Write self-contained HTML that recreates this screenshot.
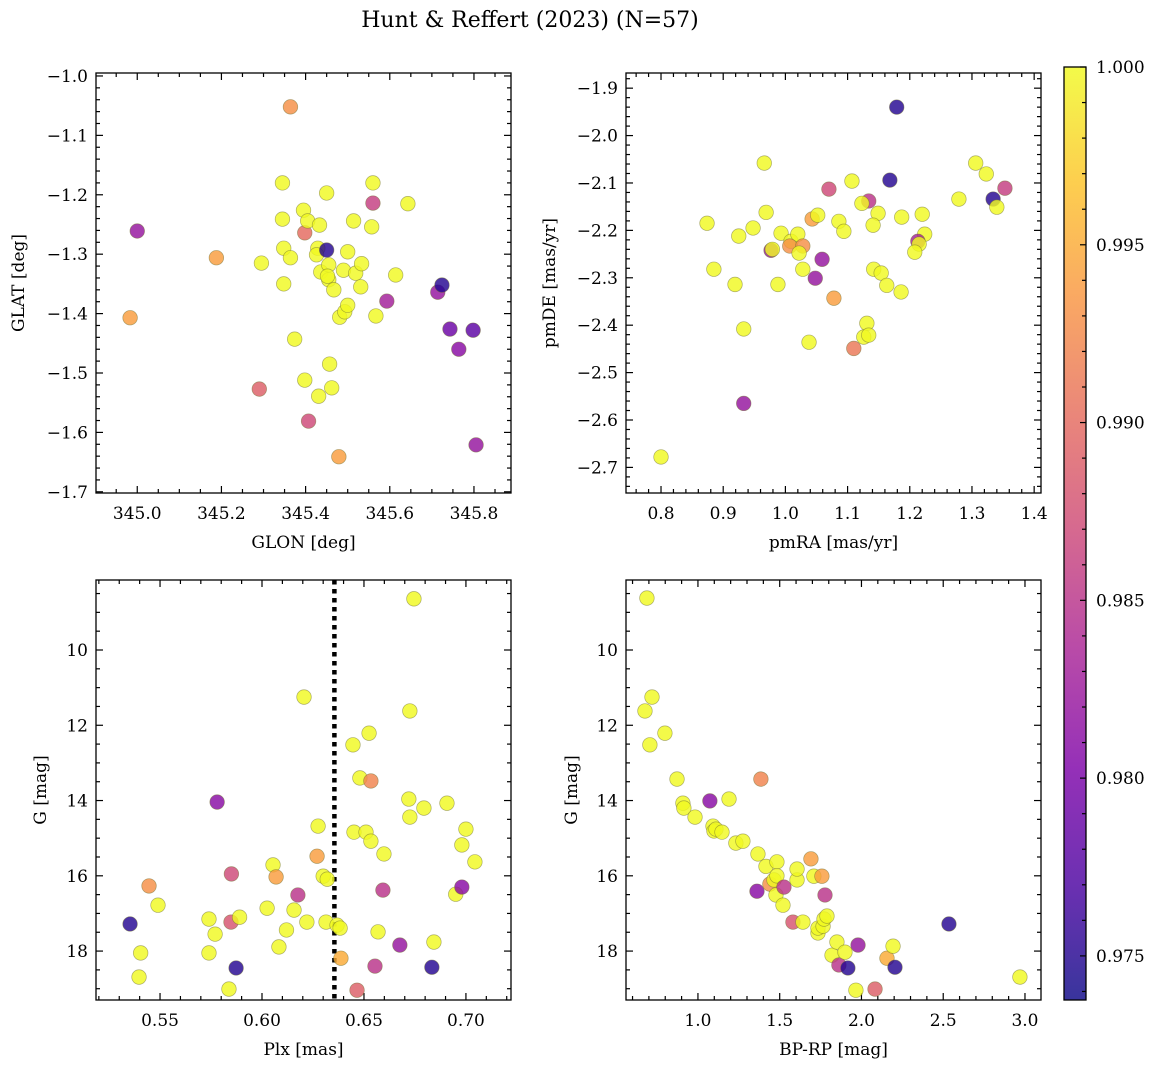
<!DOCTYPE html>
<html><head><meta charset="utf-8">
<style>
html,body{margin:0;padding:0;background:#fff;}
svg{display:block;font-family:"DejaVu Serif","Liberation Serif",serif;}
</style></head>
<body>
<svg id="fig" width="1161" height="1067" viewBox="0 0 1161 1067" xmlns="http://www.w3.org/2000/svg">
<text x="530" y="27" text-anchor="middle" font-size="22">Hunt &amp; Reffert (2023) (N=57)</text>
</svg>
<script>
// ---- Panel 1: GLON vs GLAT ----
const glonA = [345.364,345.000,345.188,344.983,345.290,345.345,345.295,345.345,345.348,345.348,345.364,345.374,345.395,345.398,345.405,345.398,345.407,345.429,345.433,345.426,345.436,345.431,345.450,345.450,345.455,345.455,345.452,345.457,345.462,345.467,345.481,345.479,345.490,345.493,345.500,345.500,345.514,345.519,345.531,345.533,345.560,345.560,345.557,345.567,345.593,345.614,345.643,345.714,345.724,345.743,345.764,345.798,345.805];
const glatA = [-1.052,-1.261,-1.306,-1.407,-1.527,-1.180,-1.315,-1.241,-1.290,-1.350,-1.306,-1.443,-1.226,-1.264,-1.244,-1.512,-1.581,-1.290,-1.251,-1.301,-1.330,-1.539,-1.197,-1.293,-1.318,-1.343,-1.337,-1.485,-1.525,-1.360,-1.406,-1.641,-1.327,-1.397,-1.296,-1.386,-1.244,-1.332,-1.355,-1.316,-1.180,-1.214,-1.254,-1.404,-1.379,-1.335,-1.215,-1.364,-1.352,-1.426,-1.460,-1.428,-1.621];
const probA = [0.993,0.982,0.994,0.994,0.989,1,1,1,1,1,1,1,1,0.990,1,1,0.987,1,1,1,1,1,1,0.975,1,1,1,1,1,1,1,0.994,1,1,1,1,1,1,1,1,1,0.986,1,1,0.983,1,1,0.982,0.975,0.979,0.981,0.978,0.982];
// ---- Panel 2: pmRA vs pmDE ----
const pmraB = [0.966,1.107,1.168,1.070,1.134,1.123,1.306,1.323,1.353,1.334,1.340,1.279,0.874,0.969,0.948,0.925,0.977,0.979,0.993,1.009,1.020,1.007,1.028,1.022,1.043,1.052,1.086,1.094,1.149,1.141,1.187,1.220,1.224,1.213,1.215,1.208,1.059,1.048,1.028,0.885,0.919,0.988,1.078,1.142,1.154,1.163,1.186,1.131,1.126,1.134,0.933,1.038,1.110,0.933,0.800,1.179];
const pmdeB = [-2.058,-2.096,-2.094,-2.113,-2.138,-2.143,-2.058,-2.081,-2.111,-2.134,-2.151,-2.134,-2.185,-2.162,-2.195,-2.212,-2.242,-2.240,-2.206,-2.223,-2.208,-2.233,-2.233,-2.248,-2.176,-2.168,-2.181,-2.202,-2.164,-2.189,-2.172,-2.166,-2.208,-2.223,-2.229,-2.246,-2.261,-2.301,-2.282,-2.282,-2.314,-2.314,-2.343,-2.282,-2.290,-2.316,-2.330,-2.396,-2.425,-2.421,-2.408,-2.436,-2.449,-2.565,-2.678,-1.940];
const probB = [1,1,0.975,0.987,0.985,1,1,1,0.986,0.975,1,1,1,1,1,1,0.982,1,1,1,1,0.993,0.993,1,0.994,1,1,1,1,1,1,1,1,0.983,1,1,0.982,0.982,1,1,1,1,0.994,1,1,1,1,1,1,1,1,1,0.991,0.982,1,0.975];
// ---- Panel 3: Plx vs G ----
const plxC = [0.5353,0.5405,0.5397,0.5446,0.549,0.574,0.574,0.577,0.578,0.5838,0.5848,0.585,0.5873,0.589,0.6025,0.6054,0.6069,0.6083,0.612,0.6157,0.6176,0.6206,0.622,0.627,0.6275,0.630,0.632,0.6314,0.6368,0.6383,0.6387,0.6446,0.6466,0.648,0.6451,0.651,0.6525,0.6534,0.6534,0.6554,0.6569,0.6593,0.6598,0.6676,0.672,0.6725,0.6725,0.6745,0.6794,0.6833,0.6843,0.6907,0.695,0.698,0.698,0.700,0.7044];
const gC = [17.28,18.05,18.69,16.27,16.78,17.15,18.05,17.55,14.04,19.01,17.23,15.95,18.45,17.10,16.86,15.71,16.03,17.89,17.44,16.91,16.51,11.25,17.23,15.48,14.68,16.01,16.09,17.23,17.31,17.39,18.19,12.52,19.04,13.40,14.84,14.84,12.21,13.48,15.08,18.40,17.49,16.38,15.42,17.84,13.96,14.44,11.62,8.64,14.20,18.43,17.76,14.07,16.49,15.18,16.30,14.76,15.63];
const probC = [0.975,1,1,0.993,1,1,1,1,0.981,1,0.988,0.987,0.975,1,1,1,0.994,1,1,1,0.985,1,1,0.994,1,1,1,1,1,1,0.995,1,0.989,1,1,1,1,0.992,1,0.985,1,0.985,1,0.982,1,1,1,1,1,0.975,1,1,1,1,0.981,1,1];
const plxCut = [0.6355];
// ---- Panel 4: BP-RP vs G ----
const bprpD = [0.688,0.676,0.719,0.706,0.798,0.872,0.908,0.914,0.982,1.073,1.092,1.098,1.110,1.147,1.190,1.232,1.275,1.385,1.367,1.361,1.416,1.440,1.465,1.483,1.483,1.477,1.520,1.526,1.581,1.606,1.606,1.642,1.691,1.709,1.734,1.734,1.758,1.765,1.771,1.777,1.789,1.820,1.850,1.862,1.899,1.917,1.966,1.979,2.083,2.156,2.193,2.205,2.535,2.969];
const gD = [8.62,11.62,11.25,12.52,12.21,13.43,14.07,14.20,14.44,14.01,14.68,14.81,14.76,14.84,13.96,15.13,15.08,13.43,15.42,16.41,15.75,16.22,16.11,15.63,16.00,16.51,16.78,16.30,17.23,16.11,15.82,17.23,15.55,16.01,17.52,17.39,16.01,17.34,17.15,16.51,17.07,18.11,17.76,18.37,18.03,18.45,19.04,17.84,19.01,18.19,17.87,18.43,17.28,18.69];
const probD = [1,1,1,1,1,1,1,1,1,0.981,1,1,1,1,1,1,1,0.992,1,0.981,1,0.993,1,1,1,1,1,0.985,0.988,1,1,1,0.994,1,1,1,0.994,1,1,0.985,1,1,1,0.985,1,0.975,1,0.982,0.989,0.995,1,0.975,0.975,1];
// ---- colorbar ----
const cbTicks = [0.975,0.980,0.985,0.990,0.995,1.000];
const cbMin = 0.97376, cbMax = 1.0;

const NS = "http://www.w3.org/2000/svg";
const svg = document.getElementById('fig');
function mk(tag, attrs, parent){
  const e = document.createElementNS(NS, tag);
  for (const k in attrs) e.setAttribute(k, attrs[k]);
  (parent||svg).appendChild(e);
  return e;
}
const stops = ["#0d0887","#4c02a1","#7e03a8","#a92395","#cc4778","#e56b5d","#f89441","#fdc328","#f0f921"];
function hex(h){return [parseInt(h.substr(1,2),16),parseInt(h.substr(3,2),16),parseInt(h.substr(5,2),16)];}
function cmap(v){
  let t = (v-cbMin)/(cbMax-cbMin); t=Math.max(0,Math.min(1,t));
  const p = t*(stops.length-1), i=Math.min(stops.length-2,Math.floor(p)), f=p-i;
  const a=hex(stops[i]), b=hex(stops[i+1]);
  return 'rgb('+a.map((c,k)=>Math.round(c+(b[k]-c)*f)).join(',')+')';
}
function fmt(v,d){ return (v<0?'\u2212':'')+Math.abs(v).toFixed(d); }

function panel(o){
  const g = mk('g',{});
  
  
  const X = v => o.x0 + (v-o.xd[0])/(o.xd[1]-o.xd[0])*(o.x1-o.x0);
  const Y = v => o.y0 + (v-o.yd[0])/(o.yd[1]-o.yd[0])*(o.y1-o.y0);
  const tg = mk('g',{stroke:'#000','stroke-width':1.2},g);
  const eps=1e-9;
  for (let v=Math.ceil(o.xd[0]/o.xmin-eps)*o.xmin; v<=o.xd[1]+eps; v+=o.xmin){
    const maj = Math.abs(v/o.xmaj-Math.round(v/o.xmaj))<1e-6; const L=maj?7:4; const px=X(v);
    mk('line',{x1:px,x2:px,y1:o.y1,y2:o.y1-L},tg); mk('line',{x1:px,x2:px,y1:o.y0,y2:o.y0+L},tg);
  }
  for (let v=Math.ceil(Math.min(...o.yd)/o.ymin-eps)*o.ymin; v<=Math.max(...o.yd)+eps; v+=o.ymin){
    const maj = Math.abs(v/o.ymaj-Math.round(v/o.ymaj))<1e-6; const L=maj?7:4; const py=Y(v);
    mk('line',{x1:o.x0,x2:o.x0+L,y1:py,y2:py},tg); mk('line',{x1:o.x1,x2:o.x1-L,y1:py,y2:py},tg);
  }
  o.xt.forEach(v=>{
    const t = mk('text',{x:X(v),y:o.y1+26,'text-anchor':'middle','font-size':17},g);
    
    
    t.textContent = fmt(v,o.xdec);
  });
  o.yt.forEach(v=>{
    const t = mk('text',{x:o.x0-8,y:Y(v)+6,'text-anchor':'end','font-size':17},g);
    
    
    t.textContent = fmt(v,o.ydec);
  });
  const xl = mk('text',{x:(o.x0+o.x1)/2,y:o.y1+55,'text-anchor':'middle','font-size':17},g);
  
  
  xl.textContent = o.xlab;
  const yl = mk('text',{x:0,y:0,'text-anchor':'middle','font-size':17,transform:'translate('+o.ylx+','+((o.y0+o.y1)/2)+') rotate(-90)'},g);
  
  
  yl.textContent = o.ylab;
  if (o.vline){
    const l = mk('line',{x1:X(o.vline[0]),x2:X(o.vline[0]),y1:o.y0,y2:o.y1,stroke:'#000','stroke-width':4.5,'stroke-dasharray':'4.5,4.5'},g);
    
    
  }
  const pg = mk('g',{},g);
  o.xs.forEach((xv,i)=>{
    const c = mk('circle',{cx:X(xv),cy:Y(o.ys[i]),r:7.3,fill:cmap(o.cs[i]),'fill-opacity':0.82,stroke:'#6f6f30','stroke-opacity':0.55,'stroke-width':0.7},pg);
    
    
  });
  const fr = mk('rect',{x:o.x0,y:o.y0,width:o.x1-o.x0,height:o.y1-o.y0,fill:'none',stroke:'#000','stroke-width':1.3},g);
  
  
}

panel({name:'glon-glat-panel',x0:96,x1:511,y0:73,y1:493,xd:[344.902,345.888],yd:[-0.995,-1.702],
  xt:[345.0,345.2,345.4,345.6,345.8],xmaj:0.2,xmin:0.05,xdec:1,
  yt:[-1.0,-1.1,-1.2,-1.3,-1.4,-1.5,-1.6,-1.7],ymaj:0.1,ymin:0.02,ydec:1,
  xlab:'GLON [deg]',ylab:'GLAT [deg]',ylx:24,xs:glonA,ys:glatA,cs:probA});
panel({name:'pm-panel',x0:626,x1:1041,y0:73,y1:493,xd:[0.7437,1.411],yd:[-1.868,-2.754],
  xt:[0.8,0.9,1.0,1.1,1.2,1.3,1.4],xmaj:0.1,xmin:0.02,xdec:1,
  yt:[-1.9,-2.0,-2.1,-2.2,-2.3,-2.4,-2.5,-2.6,-2.7],ymaj:0.1,ymin:0.02,ydec:1,
  xlab:'pmRA [mas/yr]',ylab:'pmDE [mas/yr]',ylx:555,xs:pmraB,ys:pmdeB,cs:probB});
panel({name:'plx-g-panel',x0:96,x1:511,y0:580,y1:1000,xd:[0.5186,0.7221],yd:[8.14,19.30],
  xt:[0.55,0.60,0.65,0.70],xmaj:0.05,xmin:0.01,xdec:2,
  yt:[10,12,14,16,18],ymaj:2,ymin:0.5,ydec:0,
  xlab:'Plx [mas]',ylab:'G [mag]',ylx:46,xs:plxC,ys:gC,cs:probC,vline:plxCut});
panel({name:'cmd-panel',x0:626,x1:1041,y0:580,y1:1000,xd:[0.560,3.098],yd:[8.14,19.30],
  xt:[1.0,1.5,2.0,2.5,3.0],xmaj:0.5,xmin:0.1,xdec:1,
  yt:[10,12,14,16,18],ymaj:2,ymin:0.5,ydec:0,
  xlab:'BP-RP [mag]',ylab:'G [mag]',ylx:577,xs:bprpD,ys:gD,cs:probD});

(function(){
  const cx0=1064,cx1=1086,cy0=67,cy1=1000;
  const defs = mk('defs',{});
  const lg = mk('linearGradient',{id:'cbg',x1:0,y1:1,x2:0,y2:0},defs);
  stops.forEach((s,i)=>mk('stop',{offset:(i/(stops.length-1)),'stop-color':s},lg));
  const g = mk('g',{});
  
  
  mk('rect',{x:cx0,y:cy0,width:cx1-cx0,height:cy1-cy0,fill:'url(#cbg)','fill-opacity':0.82},g);
  const Y = v => cy1 - (v-cbMin)/(cbMax-cbMin)*(cy1-cy0);
  for (let k=0;k<=26;k++){
    const v = 0.974 + k*0.001; if (v>cbMax+1e-9||v<cbMin) continue;
    const maj = (k-1)%5===0; const py=Y(v);
    mk('line',{x1:cx1,x2:cx1-(maj?6:4),y1:py,y2:py,stroke:'#000','stroke-width':1.2},g);
  }
  cbTicks.forEach(v=>{
    const t = mk('text',{x:cx1+10,y:Y(v)+6,'font-size':17},g);
    
    
    t.textContent = v.toFixed(3);
  });
  mk('rect',{x:cx0,y:cy0,width:cx1-cx0,height:cy1-cy0,fill:'none',stroke:'#000','stroke-width':1.3},g);
})();
</script>
</body></html>
